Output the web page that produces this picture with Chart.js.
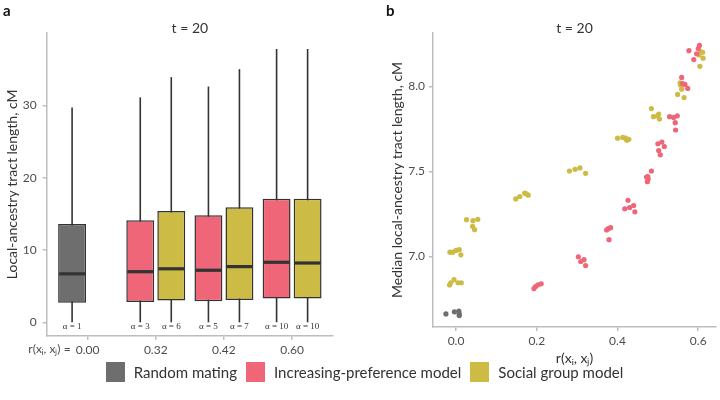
<!DOCTYPE html>
<html>
<head>
<meta charset="utf-8">
<script src="https://cdn.jsdelivr.net/npm/chart.js"></script>
<style>
body { margin: 0; background: #fff; }
#fig { position: relative; width: 720px; height: 400px; background: #fff; font-family: Lato, "Open Sans", sans-serif; color: #333; }
canvas { position: absolute; top: 0; }
#cA { left: 0; }
#cB { left: 360px; }
.tag { position: absolute; top: 1px; font-weight: bold; font-size: 15px; color: #111; }
#legend { position: absolute; top: 362px; left: 0; width: 720px; display: flex; justify-content: center; align-items: center; font-size: 15px; color: #333; }
#legend span.sw { display: inline-block; width: 19px; height: 20px; margin: 0 9px 0 9px; }
</style>
</head>
<body>
<div id="fig">
  <canvas id="cA" width="360" height="372"></canvas>
  <canvas id="cB" width="360" height="372"></canvas>
  <div class="tag" style="left:3px">a</div>
  <div class="tag" style="left:386px">b</div>
  <div id="legend"></div>
</div>
<script>
// ---- panel a: box plots ----
const catPos = [0, 1, 2, 3];
const catLabels = ['0.00', '0.32', '0.42', '0.60'];
const yTicksA = [0, 10, 20, 30];

// left slot: random mating at 0.00, increasing-preference model after
const leftMin = [0, 0, 0, 0];
const leftQ1 = [2.7, 2.8, 2.9, 3.3];
const leftMed = [6.7, 7.0, 7.2, 8.3];
const leftQ3 = [13.6, 14.1, 14.8, 17.1];
const leftMax = [29.7, 31.1, 32.6, 37.8];
const leftAlpha = ['α = 1', 'α = 3', 'α = 5', 'α = 10'];

// right slot: social group model (none at 0.00)
const rightMin = [null, 0, 0, 0];
const rightQ1 = [null, 3.0, 3.1, 3.3];
const rightMed = [null, 7.4, 7.7, 8.2];
const rightQ3 = [null, 15.4, 15.9, 17.1];
const rightMax = [null, 33.9, 35.0, 37.8];
const rightAlpha = [null, 'α = 6', 'α = 7', 'α = 10'];

// ---- panel b: medians ----
const randX = [-0.025, -0.004, 0.007, 0.008, 0.008];
const randY = [6.663, 6.675, 6.679, 6.663, 6.653];

const prefX = [0.193, 0.197, 0.203, 0.211,
  0.303, 0.309, 0.317, 0.321,
  0.373, 0.377, 0.383, 0.379,
  0.426, 0.418, 0.430, 0.440, 0.443,
  0.472, 0.476, 0.474, 0.484, 0.475,
  0.500, 0.510, 0.516, 0.502, 0.506,
  0.529, 0.539, 0.548, 0.543, 0.544,
  0.559, 0.567, 0.574, 0.561,
  0.577, 0.589, 0.596, 0.600, 0.603];
const prefY = [6.812, 6.824, 6.834, 6.840,
  6.999, 6.971, 6.982, 6.947,
  7.156, 7.164, 7.170, 7.099,
  7.331, 7.281, 7.288, 7.300, 7.263,
  7.467, 7.456, 7.440, 7.503, 7.470,
  7.663, 7.673, 7.647, 7.623, 7.598,
  7.822, 7.818, 7.827, 7.787, 7.744,
  8.053, 8.012, 7.988, 8.016,
  8.210, 8.158, 8.192, 8.223, 8.241];

const socX = [-0.016, -0.013, -0.005, 0.005, 0.013,
  -0.015, -0.008, 0.000, 0.008, 0.012,
  0.026, 0.042, 0.054, 0.041, 0.046,
  0.148, 0.158, 0.170, 0.174, 0.179,
  0.281, 0.295, 0.307, 0.321,
  0.400, 0.413, 0.420, 0.423, 0.428,
  0.484, 0.489, 0.499, 0.502, 0.504,
  0.555, 0.559, 0.549, 0.565, 0.556,
  0.606, 0.611, 0.612, 0.604, 0.602];
const socY = [6.833, 6.846, 6.864, 6.846, 6.846,
  7.026, 7.026, 7.036, 7.041, 7.010,
  7.217, 7.211, 7.219, 7.178, 7.158,
  7.339, 7.353, 7.373, 7.369, 7.361,
  7.503, 7.513, 7.521, 7.489,
  7.696, 7.700, 7.696, 7.683, 7.689,
  7.870, 7.822, 7.827, 7.838, 7.808,
  8.021, 7.984, 7.953, 7.935, 8.008,
  8.205, 8.201, 8.166, 8.118, 8.185];

const xTicksB = [0, 0.2, 0.4, 0.6];
const yTicksB = [7.0, 7.5, 8.0];

const legendNames = ['Random mating', 'Increasing-preference model', 'Social group model'];

const GRAY = '#6E6E6E', PINK = '#EE6677', GOLD = '#CCBB44';
const AXIS = '#bdbdbd', TICKTXT = '#4d4d4d', INK = '#333333';
const FONT = 'Lato, "Open Sans", sans-serif';

Chart.defaults.font.family = FONT;
Chart.defaults.color = TICKTXT;

// legend (shared by both panels)
const legendColors = [GRAY, PINK, GOLD];
document.getElementById('legend').innerHTML = legendNames.map((n, i) =>
  '<span class="sw" style="background:' + legendColors[i] + '"></span><span>' + n + '</span>').join('');

function axisCommon() {
    return {
        grid: { display: true, drawOnChartArea: false, color: AXIS, lineWidth: 1.5, tickLength: 4, offset: false },
        border: { color: AXIS, width: 1.5 }
    };
}

const leftColors = [GRAY, PINK, PINK, PINK];

const boxPlugin = {
    id: 'boxparts',
    beforeDatasetsDraw(chart) {
        const ctx = chart.ctx, y = chart.scales.y;
        const sets = [[leftMin, leftMax], [rightMin, rightMax]];
        ctx.save();
        ctx.strokeStyle = INK;
        ctx.lineWidth = 1.6;
        sets.forEach((s, d) => {
            chart.getDatasetMeta(d).data.forEach((el, i) => {
                const k = chart.data.datasets[d].src[i];
                if (s[0][k] == null) return;
                ctx.beginPath();
                ctx.moveTo(el.x, y.getPixelForValue(s[0][k]));
                ctx.lineTo(el.x, y.getPixelForValue(s[1][k]));
                ctx.stroke();
            });
        });
        ctx.restore();
    },
    afterDatasetsDraw(chart) {
        const ctx = chart.ctx, y = chart.scales.y;
        const meds = [leftMed, rightMed];
        const alphas = [leftAlpha, rightAlpha];
        ctx.save();
        ctx.strokeStyle = INK;
        ctx.lineWidth = 3.2;
        ctx.fillStyle = INK;
        ctx.font = '9px "Liberation Serif", serif';
        ctx.textAlign = 'center';
        ctx.textBaseline = 'middle';
        meds.forEach((m, d) => {
            chart.getDatasetMeta(d).data.forEach((el, i) => {
                const k = chart.data.datasets[d].src[i];
                const py = y.getPixelForValue(m[k]);
                ctx.beginPath();
                ctx.moveTo(el.x - el.width / 2 + 1, py);
                ctx.lineTo(el.x + el.width / 2 - 1, py);
                ctx.stroke();
                ctx.fillText(alphas[d][k], el.x, y.getPixelForValue(0) + 4);
            });
        });
        // prefix of the x tick labels
        ctx.font = '12px ' + FONT;
        ctx.fillStyle = TICKTXT;
        ctx.textAlign = 'right';
        ctx.fillText('r(xᵢ, xⱼ) =', chart.scales.x.getPixelForValue(catPos[0]) - 17, chart.chartArea.bottom + 13);
        ctx.restore();
    }
};

function boxData(q1, q3) {
    const out = [], src = [];
    catPos.forEach((p, i) => {
        if (q1[i] == null) return;
        out.push({ x: p, y: [q1[i], q3[i]] });
        src.push(i);
    });
    return { out, src };
}
const L = boxData(leftQ1, leftQ3);
const R = boxData(rightQ1, rightQ3);

new Chart(document.getElementById('cA'), {
    type: 'bar',
    data: {
        datasets: [
            { data: L.out, src: L.src, backgroundColor: L.src.map(i => leftColors[i]), borderColor: INK, borderWidth: 1.5, borderSkipped: false, categoryPercentage: 0.91, barPercentage: 0.9 },
            { data: R.out, src: R.src, backgroundColor: GOLD, borderColor: INK, borderWidth: 1.5, borderSkipped: false, categoryPercentage: 0.91, barPercentage: 0.9 }
        ]
    },
    options: {
        responsive: false, animation: false,
        layout: { padding: { top: 33, right: 27, left: 0, bottom: 0 } },
        plugins: { legend: { display: false }, tooltip: { enabled: false } },
        scales: {
            x: Object.assign(axisCommon(), {
                type: 'linear', min: -0.6, max: 3.6, offset: false,
                afterBuildTicks: s => { s.ticks = catPos.map(v => ({ value: v })); },
                afterFit: s => { s.height = 36.3; },
                ticks: { color: TICKTXT, font: { size: 12 }, padding: 3, maxRotation: 0, callback: v => catLabels[catPos.indexOf(v)] }
            }),
            y: Object.assign(axisCommon(), {
                min: -1.85, max: 40, stacked: false,
                afterBuildTicks: s => { s.ticks = yTicksA.map(v => ({ value: v })); },
                afterFit: s => { s.width = 46.7; },
                ticks: { color: TICKTXT, font: { size: 12 }, padding: 6 },
                title: { display: true, text: 'Local-ancestry tract length, cM', color: INK, font: { size: 14 }, padding: { top: 4, bottom: 0 } }
            })
        }
    },
    plugins: [boxPlugin, {
        id: 'ttl',
        afterDraw(chart) {
            const c = chart.ctx, a = chart.chartArea;
            c.save();
            c.font = '14px ' + FONT; c.fillStyle = INK; c.textAlign = 'center'; c.textBaseline = 'middle';
            c.fillText('t = 20', (a.left + a.right) / 2, 28);
            c.restore();
        }
    }]
});

const pts = (xs, ys) => xs.map((x, i) => ({ x: x, y: ys[i] }));

new Chart(document.getElementById('cB'), {
    type: 'scatter',
    data: {
        datasets: [
            { data: pts(randX, randY), backgroundColor: GRAY },
            { data: pts(prefX, prefY), backgroundColor: PINK },
            { data: pts(socX, socY), backgroundColor: GOLD }
        ]
    },
    options: {
        responsive: false, animation: false,
        elements: { point: { radius: 2.6, borderWidth: 0 } },
        layout: { padding: { top: 33, right: 2, left: 0, bottom: 0 } },
        plugins: { legend: { display: false }, tooltip: { enabled: false } },
        scales: {
            x: Object.assign(axisCommon(), {
                type: 'linear', min: -0.057, max: 0.644,
                afterBuildTicks: s => { s.ticks = xTicksB.map(v => ({ value: v })); },
                afterFit: s => { s.height = 45; },
                ticks: { color: TICKTXT, font: { size: 12 }, padding: 3, callback: v => v.toFixed(1) },
                title: { display: true, text: 'r(xᵢ, xⱼ)', color: INK, font: { size: 14 }, padding: { top: 0, bottom: 5 } }
            }),
            y: Object.assign(axisCommon(), {
                min: 6.586, max: 8.314,
                afterBuildTicks: s => { s.ticks = yTicksB.map(v => ({ value: v })); },
                afterFit: s => { s.width = 73; },
                ticks: { color: TICKTXT, font: { size: 12 }, padding: 4, callback: v => v.toFixed(1) },
                title: { display: true, text: 'Median local-ancestry tract length, cM', color: INK, font: { size: 14 }, padding: { top: 29, bottom: 0 } }
            })
        }
    },
    plugins: [{
        id: 'ttl',
        afterDraw(chart) {
            const c = chart.ctx, a = chart.chartArea;
            c.save();
            c.font = '14px ' + FONT; c.fillStyle = INK; c.textAlign = 'center'; c.textBaseline = 'middle';
            c.fillText('t = 20', (a.left + a.right) / 2, 28);
            c.restore();
        }
    }]
});
</script>
</body>
</html>
